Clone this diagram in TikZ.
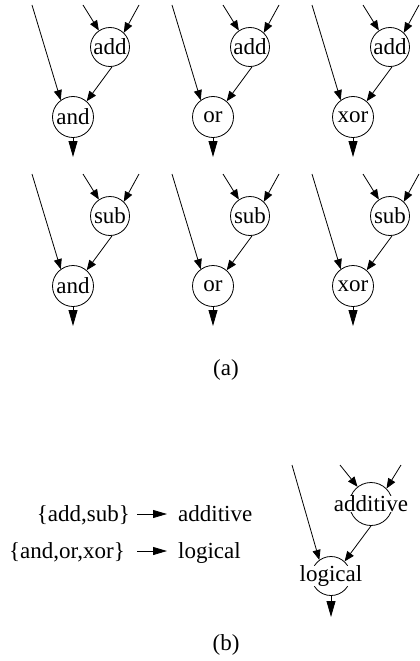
\documentclass[tikz,border=0pt]{standalone}
\usepackage{fontspec}
\setmainfont{Liberation Serif}
\usetikzlibrary{arrows.meta}
\begin{document}
\begin{tikzpicture}[x=1pt,y=-1pt,
  every node/.style={font=\fontsize{23}{27}\selectfont},
  opnode/.style={draw, circle, line width=0.8pt, minimum size=41pt, inner sep=0pt},
  optext/.style={fill=white, inner sep=0pt},
  wire/.style={line width=0.8pt, -{Triangle[length=10pt,width=8pt]}},
  outwire/.style={line width=0.8pt, -{Triangle[length=16pt,width=9pt]}},
  maparrow/.style={line width=0.8pt, -{Triangle[length=14pt,width=8pt]}},
  legend/.style={inner xsep=0pt, inner ysep=0pt, text height=14pt, text depth=0pt}]
\useasboundingbox (0,0) rectangle (420,661);

% (a): an arithmetic operation feeding a logical one, for every pair
\foreach [count=\i] \arith in {add,sub} {
  \foreach [count=\j] \logic in {and,or,xor} {
    \pgfmathsetmacro\dx{(\j-1)*140}
    \pgfmathsetmacro\dy{(\i-1)*169}
    \begin{scope}[shift={(\dx,\dy)}]
      \node[opnode, minimum size=39pt] (a\i\j) at (110,47) {\arith};
      \node[opnode] (l\i\j) at (73,117) {\logic};
      \coordinate (p\i\j) at (32,5);
      \coordinate (q\i\j) at (83,5);
      \coordinate (s\i\j) at (139,5);
      \coordinate (o\i\j) at (73,157);
      \draw[wire] (q\i\j) -- (a\i\j.124);
      \draw[wire] (s\i\j) -- (a\i\j.46);
      \draw[wire] (p\i\j) -- (l\i\j.126);
      \draw[wire] (a\i\j.276) -- (l\i\j.49);
      \draw[outwire] (l\i\j.south) -- (o\i\j);
    \end{scope}
  }
}
\node (capa) at (226,370) {(a)};

% (b): operation classes
\node[legend, anchor=base east] (m1) at (130,521) {\{add,sub\}};
\node[legend, anchor=base west] (t1) at (178,521) {additive};
\node[legend, anchor=base east] (m2) at (125,558) {\{and,or,xor\}};
\node[legend, anchor=base west] (t2) at (178,558) {logical};
\draw[maparrow] ([xshift=7pt]m1.east) -- ([xshift=-11pt]t1.west);
\draw[maparrow] ([xshift=12pt]m2.east) -- ([xshift=-11pt]t2.west);

% (b): the merged graph
\node[opnode, minimum size=43pt] (add) at (371,504) {};
\node[optext] at (add) {additive};
\node[opnode, minimum size=39pt] (log) at (331,576) {};
\node[optext] at (log) {logical};
\coordinate (bp) at (292,465);
\coordinate (bq) at (340,465);
\coordinate (bs) at (401,465);
\coordinate (bo) at (331,617);
\draw[wire] (bq) -- (add.128);
\draw[wire] (bs) -- (add.45);
\draw[wire] (bp) -- (log.126);
\draw[wire] (add.270) -- (log.47);
\draw[outwire] (log.south) -- (bo);
\node (capb) at (226,645) {(b)};
\end{tikzpicture}
\end{document}
